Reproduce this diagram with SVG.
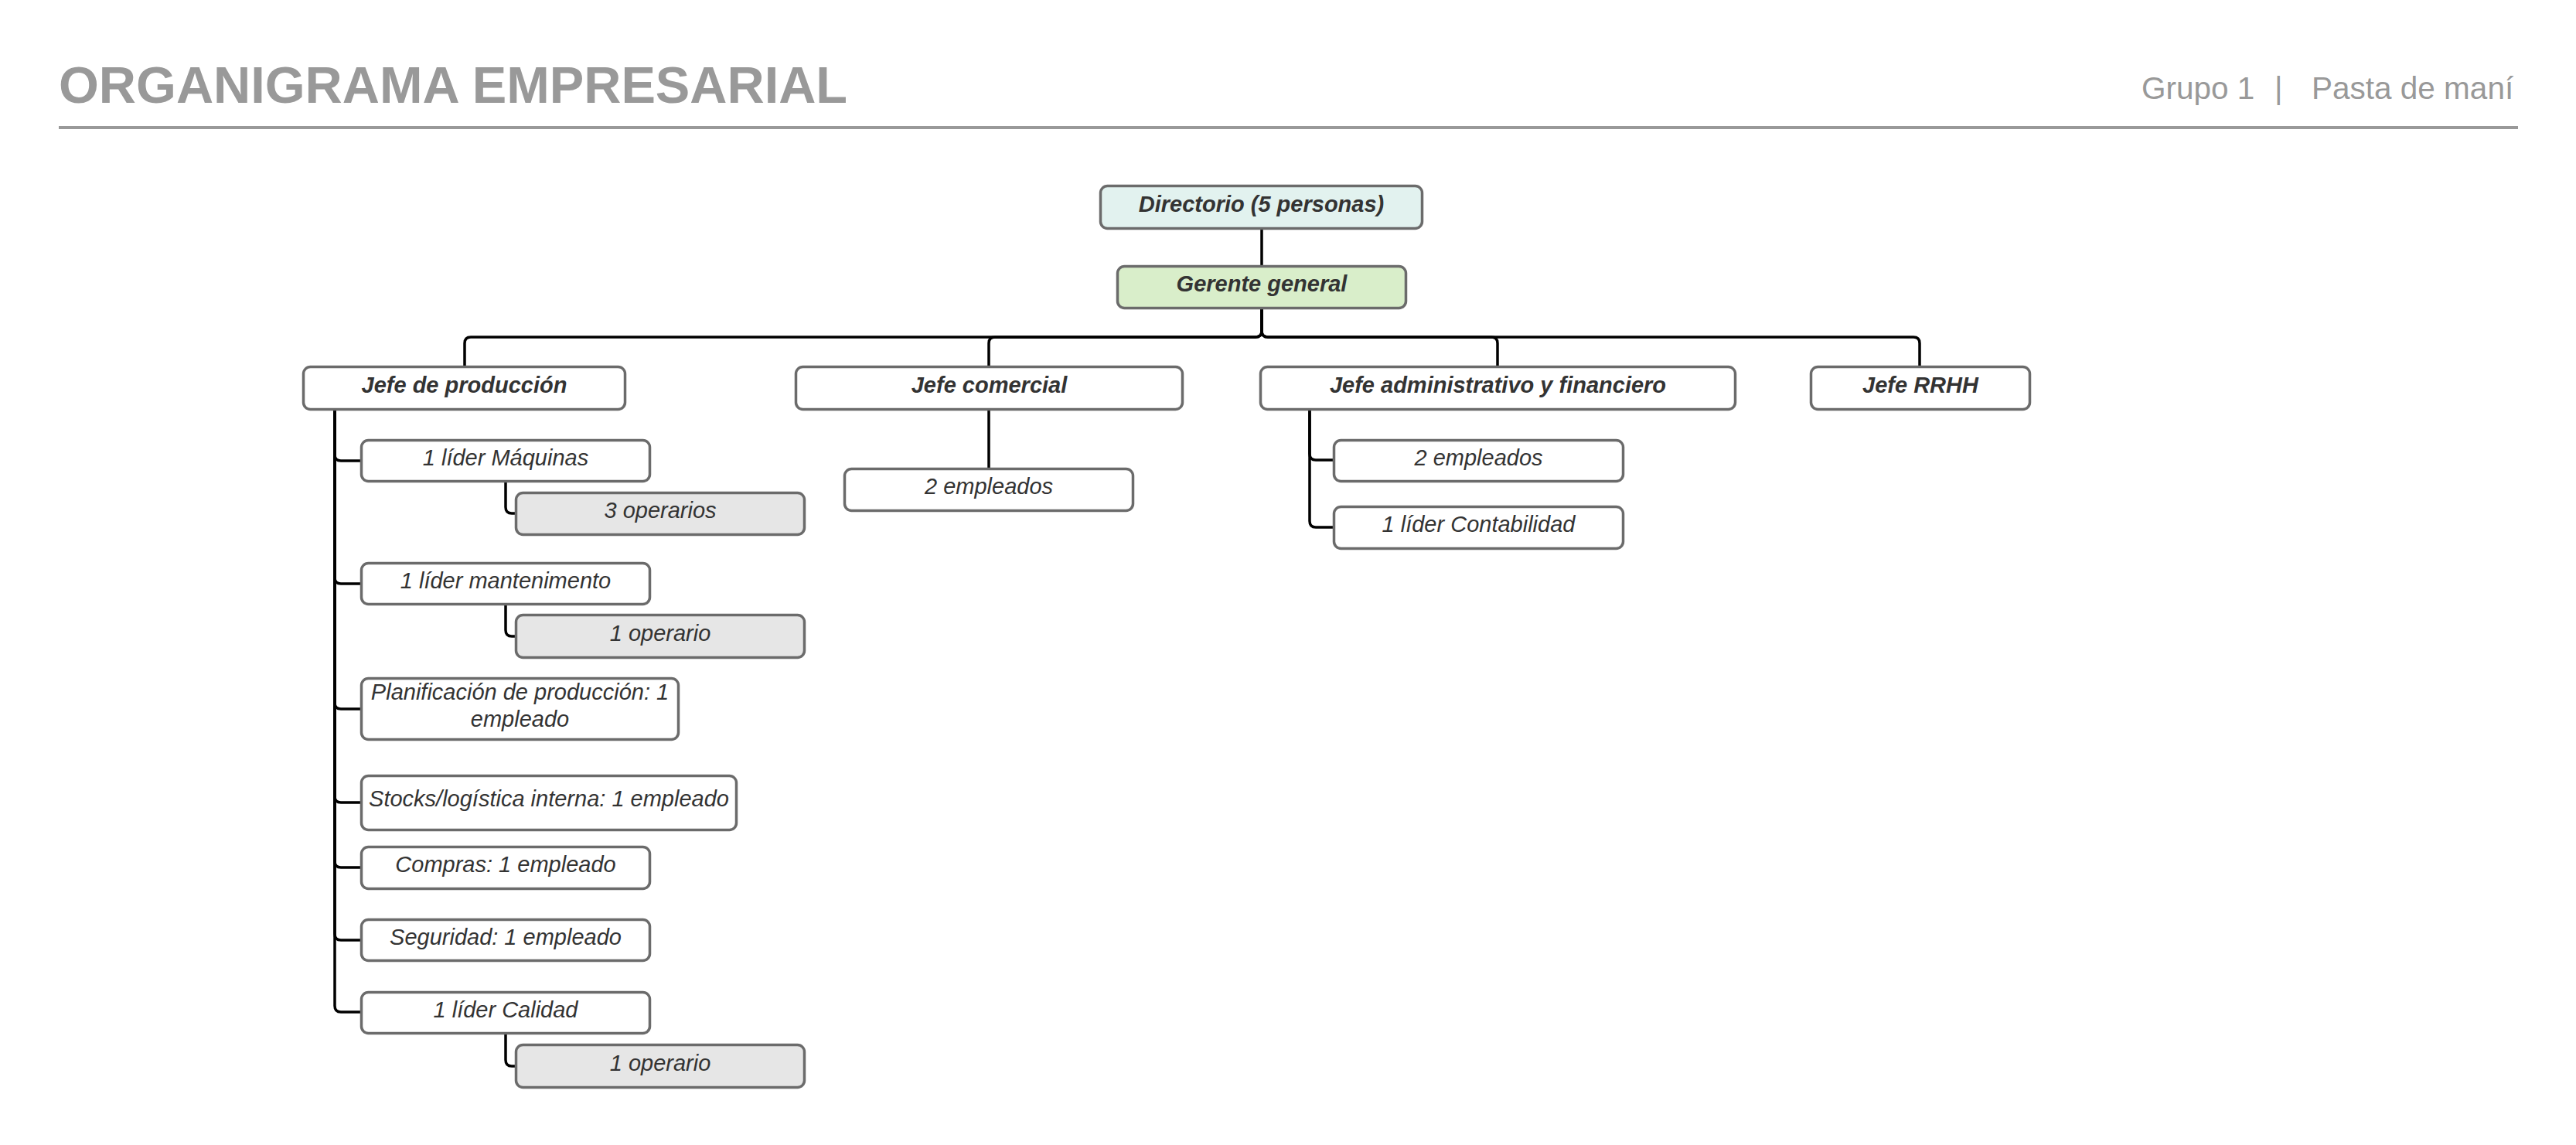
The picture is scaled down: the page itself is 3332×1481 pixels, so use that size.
<svg xmlns="http://www.w3.org/2000/svg" width="3332" height="1481" viewBox="0 0 3332 1481">
<style>
.bg{fill:#ffffff}
.box{fill:#ffffff;stroke:#6b6b6b;stroke-width:3.5}
.dir{fill:#e2f2ef}
.ger{fill:#d9eeca}
.op{fill:#e6e6e6}
.t{font-family:"Liberation Sans",Arial,sans-serif;font-size:29px;font-style:italic;fill:#333333;text-anchor:middle}
.b{font-weight:bold}
.c{fill:none;stroke:#000000;stroke-width:3.5;stroke-linejoin:round}
.title{font-family:"Liberation Sans",Arial,sans-serif;font-size:66.7px;font-weight:bold;fill:#999999}
.sub{font-family:"Liberation Sans",Arial,sans-serif;font-size:40.5px;fill:#999999}
</style>
<rect class="bg" x="0" y="0" width="3332" height="1481"/>
<g id="header">
<text class="title" x="76" y="133">ORGANIGRAMA EMPRESARIAL</text>
<text class="sub" y="128"><tspan x="2770">Grupo 1</tspan><tspan x="2942">|</tspan><tspan x="2990">Pasta de maní</tspan></text>
<line x1="76" y1="165" x2="3257" y2="165" stroke="#999999" stroke-width="4"/>
</g>
<g id="connectors">
<path class="c" d="M1632,297 V343"/>
<path class="c" d="M1632,400 V428 Q1632,436 1624,436 H609 Q601,436 601,444 V473"/>
<path class="c" d="M1632,400 V428 Q1632,436 1624,436 H1287 Q1279,436 1279,444 V473"/>
<path class="c" d="M1632,400 V428 Q1632,436 1640,436 H1929 Q1937,436 1937,444 V473"/>
<path class="c" d="M1632,400 V428 Q1632,436 1640,436 H2475 Q2483,436 2483,444 V473"/>
<path class="c" d="M1279,531 V605"/>
<path class="c" d="M433,531 V588 Q433,596 441,596 H466"/>
<path class="c" d="M433,531 V747 Q433,755 441,755 H466"/>
<path class="c" d="M433,531 V909 Q433,917 441,917 H466"/>
<path class="c" d="M433,531 V1030 Q433,1038 441,1038 H466"/>
<path class="c" d="M433,531 V1114 Q433,1122 441,1122 H466"/>
<path class="c" d="M433,531 V1208 Q433,1216 441,1216 H466"/>
<path class="c" d="M433,531 V1301 Q433,1309 441,1309 H466"/>
<path class="c" d="M654,624 V656 Q654,664 662,664 H666"/>
<path class="c" d="M654,783 V815 Q654,823 662,823 H666"/>
<path class="c" d="M654,1338 V1371 Q654,1379 662,1379 H666"/>
<path class="c" d="M1694,531 V587 Q1694,595 1702,595 H1724"/>
<path class="c" d="M1694,531 V674 Q1694,682 1702,682 H1724"/>
</g>
<g id="n-directorio"><rect class="box dir" x="1423.5" y="240.5" width="416" height="55" rx="9"/><text class="t b" x="1631.5" y="274">Directorio (5 personas)</text></g>
<g id="n-gerente"><rect class="box ger" x="1445.5" y="344.5" width="373" height="54" rx="9"/><text class="t b" x="1632" y="377">Gerente general</text></g>
<g id="n-jefe-produccion"><rect class="box" x="392.5" y="474.5" width="416" height="55" rx="9"/><text class="t b" x="600.5" y="508">Jefe de producción</text></g>
<g id="n-jefe-comercial"><rect class="box" x="1029.5" y="474.5" width="500" height="55" rx="9"/><text class="t b" x="1279.5" y="508">Jefe comercial</text></g>
<g id="n-jefe-admin"><rect class="box" x="1630.5" y="474.5" width="614" height="55" rx="9"/><text class="t b" x="1937.5" y="508">Jefe administrativo y financiero</text></g>
<g id="n-jefe-rrhh"><rect class="box" x="2342.5" y="474.5" width="283" height="55" rx="9"/><text class="t b" x="2484" y="508">Jefe RRHH</text></g>
<g id="n-lider-maquinas"><rect class="box" x="467.5" y="569.5" width="373" height="53" rx="9"/><text class="t" x="654" y="602">1 líder Máquinas</text></g>
<g id="n-3-operarios"><rect class="box op" x="667.5" y="637.5" width="373" height="54" rx="9"/><text class="t" x="854" y="670">3 operarios</text></g>
<g id="n-lider-mantenimento"><rect class="box" x="467.5" y="728.5" width="373" height="53" rx="9"/><text class="t" x="654" y="761">1 líder mantenimento</text></g>
<g id="n-1-operario-a"><rect class="box op" x="667.5" y="795.5" width="373" height="55" rx="9"/><text class="t" x="854" y="829">1 operario</text></g>
<g id="n-planificacion"><rect class="box" x="467.5" y="877.5" width="410" height="79" rx="9"/><text class="t" x="672.5" y="905">Planificación de producción: 1</text><text class="t" x="672.5" y="940">empleado</text></g>
<g id="n-stocks"><rect class="box" x="467.5" y="1003.5" width="485" height="70" rx="9"/><text class="t" x="710" y="1043">Stocks/logística interna: 1 empleado</text></g>
<g id="n-compras"><rect class="box" x="467.5" y="1095.5" width="373" height="54" rx="9"/><text class="t" x="654" y="1128">Compras: 1 empleado</text></g>
<g id="n-seguridad"><rect class="box" x="467.5" y="1189.5" width="373" height="53" rx="9"/><text class="t" x="654" y="1222">Seguridad: 1 empleado</text></g>
<g id="n-lider-calidad"><rect class="box" x="467.5" y="1283.5" width="373" height="53" rx="9"/><text class="t" x="654" y="1316">1 líder Calidad</text></g>
<g id="n-1-operario-b"><rect class="box op" x="667.5" y="1351.5" width="373" height="55" rx="9"/><text class="t" x="854" y="1385">1 operario</text></g>
<g id="n-com-empleados"><rect class="box" x="1092.5" y="606.5" width="373" height="54" rx="9"/><text class="t" x="1279" y="639">2 empleados</text></g>
<g id="n-adm-empleados"><rect class="box" x="1725.5" y="569.5" width="374" height="53" rx="9"/><text class="t" x="1912.5" y="602">2 empleados</text></g>
<g id="n-lider-contabilidad"><rect class="box" x="1725.5" y="655.5" width="374" height="54" rx="9"/><text class="t" x="1912.5" y="688">1 líder Contabilidad</text></g>
</svg>
